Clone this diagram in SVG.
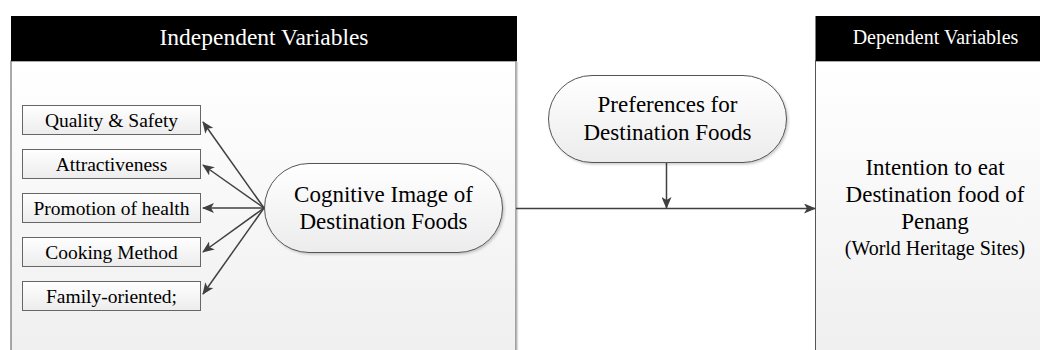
<svg xmlns="http://www.w3.org/2000/svg" width="1040" height="350" viewBox="0 0 1040 350">
<defs>
<linearGradient id="panelG" x1="0" y1="0" x2="0" y2="1">
<stop offset="0" stop-color="#ffffff"/><stop offset="1" stop-color="#efefef"/>
</linearGradient>
<linearGradient id="nodeG" x1="0" y1="0" x2="0" y2="1">
<stop offset="0" stop-color="#ffffff"/><stop offset="1" stop-color="#ececec"/>
</linearGradient>
<marker id="arr" viewBox="0 0 12 10" refX="11" refY="5" markerWidth="12" markerHeight="10" markerUnits="userSpaceOnUse" orient="auto">
<path d="M0,0 L12,5 L0,10 L3,5 Z" fill="#404040"/>
</marker>
<filter id="sh" x="-10%" y="-10%" width="130%" height="140%">
<feDropShadow dx="1.5" dy="1.5" stdDeviation="1" flood-color="#000" flood-opacity="0.2"/>
</filter>
</defs>
<style>
.hdr{fill:#000}
.panel{fill:url(#panelG);stroke:#555;stroke-width:1}
.box{fill:url(#nodeG);stroke:#666;stroke-width:1}
.pill{fill:url(#nodeG);stroke:#555;stroke-width:1;filter:url(#sh)}
text{font-family:"Liberation Serif","Times New Roman",serif;text-anchor:middle}
.t{fill:#000}
.ht{fill:#fff}
.c{stroke:#404040;stroke-width:1.5;fill:none;marker-end:url(#arr)}
</style>
<rect width="1040" height="350" fill="#fff"/>

<g id="independent-panel">
<rect class="panel" x="11" y="61" width="505" height="300"/>
<line x1="517.5" y1="62" x2="517.5" y2="350" stroke="#ddd" stroke-width="1.5"/>
<rect class="hdr" x="11" y="16" width="506" height="45"/>
<text class="ht" x="264" y="45" font-size="23.5">Independent Variables</text>
</g>

<g id="dependent-panel">
<rect class="panel" x="815.5" y="61" width="230" height="300"/>
<rect class="hdr" x="815.5" y="16" width="225" height="45"/>
<text class="ht" x="935.5" y="44" font-size="20">Dependent Variables</text>
<text class="t" x="935" y="175" font-size="23">Intention to eat</text>
<text class="t" x="935" y="202" font-size="23">Destination food of</text>
<text class="t" x="935" y="229" font-size="23">Penang</text>
<text class="t" x="935" y="255" font-size="20">(World Heritage Sites)</text>
</g>

<g id="quality-safety">
<rect class="box" x="22.5" y="105.5" width="178" height="29"/>
<text class="t" x="111.5" y="126.5" font-size="19.5">Quality &amp; Safety</text>
</g>
<g id="attractiveness">
<rect class="box" x="22.5" y="149.5" width="178" height="29"/>
<text class="t" x="111.5" y="170.5" font-size="19.5">Attractiveness</text>
</g>
<g id="promotion-of-health">
<rect class="box" x="22.5" y="193.5" width="178" height="29"/>
<text class="t" x="111.5" y="214.5" font-size="19.5">Promotion of health</text>
</g>
<g id="cooking-method">
<rect class="box" x="22.5" y="237.5" width="178" height="29"/>
<text class="t" x="111.5" y="258.5" font-size="19.5">Cooking Method</text>
</g>
<g id="family-oriented">
<rect class="box" x="22.5" y="281.5" width="178" height="29"/>
<text class="t" x="111.5" y="302.5" font-size="19.5">Family-oriented;</text>
</g>

<g id="cognitive-image">
<rect class="pill" x="264.5" y="163.5" width="238" height="89" rx="44.5" ry="44.5"/>
<text class="t" x="383.5" y="202" font-size="23">Cognitive Image of</text>
<text class="t" x="383.5" y="229" font-size="23">Destination Foods</text>
</g>

<g id="preferences">
<rect class="pill" x="548.5" y="75.5" width="238" height="87" rx="43.5" ry="43.5"/>
<text class="t" x="667.5" y="112" font-size="23">Preferences for</text>
<text class="t" x="667.5" y="140" font-size="23">Destination Foods</text>
</g>

<g id="connectors">
<line class="c" x1="264" y1="208" x2="203" y2="122"/>
<line class="c" x1="264" y1="208" x2="203" y2="165"/>
<line class="c" x1="264" y1="208" x2="203" y2="208"/>
<line class="c" x1="264" y1="208" x2="203" y2="252"/>
<line class="c" x1="264" y1="208" x2="203" y2="294"/>
<line class="c" x1="516" y1="208.5" x2="815" y2="208.5"/>
<line class="c" x1="666.5" y1="163" x2="666.5" y2="208"/>
</g>
</svg>
